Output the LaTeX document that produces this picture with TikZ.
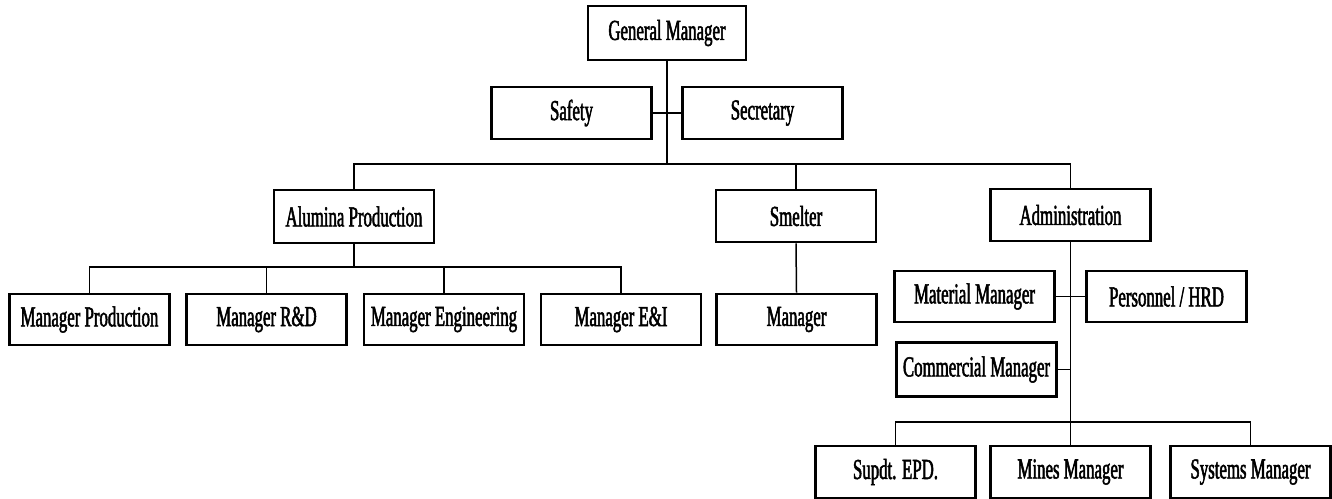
\documentclass[tikz,border=0pt]{standalone}
\usepackage{fontspec}
\newfontfamily\orgfont[FakeStretch=0.58,FakeBold=1.8]{Liberation Serif}
\begin{document}
\begin{tikzpicture}[x=1pt,y=-1pt,
  box/.style={draw,line width=2.6pt,minimum width=160pt,minimum height=52pt,inner sep=0pt,
    font=\orgfont\fontsize{29pt}{32pt}\selectfont},
  conn/.style={line width=1.5pt}]
\useasboundingbox (0,0) rectangle (1332,498);
\clip (0,0) rectangle (1332,498);
% nodes
\node[box,minimum width=158pt,minimum height=54pt] (gm) at (667,33) {General Manager};
\node[box] (safety) at (571.5,113) {Safety};
\node[box] (secr) at (762.5,113) {Secretary};
\node[box,minimum height=53pt] (alum) at (354,216.5) {Alumina Production};
\node[box] (smelt) at (796,216) {Smelter};
\node[box] (admin) at (1070.5,215) {Administration};
\node[box,minimum height=51pt] (mp) at (89.5,319.5) {Manager Production};
\node[box,minimum height=51pt] (rd) at (266.5,319.5) {Manager R\&D};
\node[box,minimum height=51pt] (eng) at (444,319.5) {Manager Engineering};
\node[box,minimum height=51pt] (ei) at (621,319.5) {Manager E\&I};
\node[box,minimum height=51pt] (smgr) at (796.5,319.5) {Manager};
\node[box,minimum height=51pt] (mat) at (974.5,296.5) {Material Manager};
\node[box,minimum height=51pt] (pers) at (1166.5,296.5) {Personnel / HRD};
\node[box,minimum height=54pt] (comm) at (976.5,369.5) {Commercial Manager};
\node[box] (supdt) at (895.5,472) {Supdt. EPD.};
\node[box] (mines) at (1070.5,472) {Mines Manager};
\node[box] (sys) at (1250.5,472) {Systems Manager};
% bus coordinates
\coordinate (b1) at (667,164);
\coordinate (b2) at (354,267);
\coordinate (b3) at (1070.5,422);
% connectors
\draw[conn] (gm.south) -- (b1);
\draw[conn] (safety.east) -- (secr.west);
\draw[conn] (alum.north) |- (b1) -| (admin.north);
\draw[conn] (b1) -| (smelt.north);
\draw[conn] (alum.south) -- (b2);
\draw[conn] (mp.north) |- (b2) -| (ei.north);
\draw[conn] (b2) -| (rd.north);
\draw[conn] (b2) -| (eng.north);
\draw[conn] (smelt.south) -- (smgr.north);
\draw[conn] (admin.south) -- (b3);
\draw[conn] (mat.east) -- (pers.west);
\draw[conn] (comm.east) -- (comm.east -| b3);
\draw[conn] (supdt.north) |- (b3) -| (sys.north);
\draw[conn] (b3) -- (mines.north);
\end{tikzpicture}
\end{document}
